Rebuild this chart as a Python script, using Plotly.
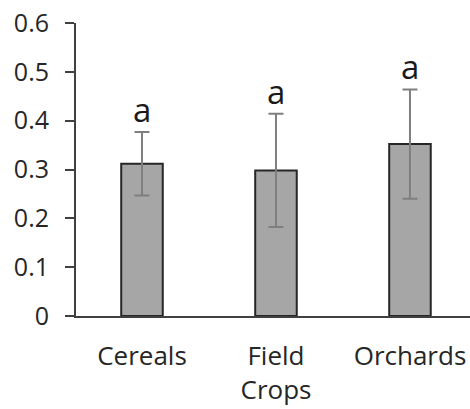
import plotly.graph_objects as go

categories = ["Cereals", "Field<br>Crops", "Orchards"]
means = [0.312, 0.298, 0.352]
errors = [0.065, 0.116, 0.112]
letters = ["a", "a", "a"]
y_ticks = [0, 0.1, 0.2, 0.3, 0.4, 0.5, 0.6]
y_tick_labels = ["0", "0.1", "0.2", "0.3", "0.4", "0.5", "0.6"]

FONT = "Open Sans"

fig = go.Figure()
fig.add_trace(go.Bar(
    x=list(range(len(categories))),
    y=means,
    width=0.31,
    marker=dict(color="#a6a6a6", line=dict(color="#262626", width=2)),
    error_y=dict(type="data", array=errors, visible=True,
                 color="#7f7f7f", thickness=2, width=7.5),
    showlegend=False,
))

for i, (m, e, t) in enumerate(zip(means, errors, letters)):
    fig.add_annotation(x=i, y=m + e, text=t, showarrow=False,
                       yanchor="bottom", yshift=-2,
                       font=dict(family=FONT, size=33, color="#1a1a1a"))

fig.update_layout(
    width=470, height=409,
    margin=dict(l=76, r=0, t=23, b=93),
    paper_bgcolor="white", plot_bgcolor="white",
    font=dict(family=FONT, color="#262626"),
    xaxis=dict(
        range=[-0.4925, 2.448],
        tickvals=list(range(len(categories))),
        ticktext=categories,
        showline=True, linecolor="#404040", linewidth=2,
        ticks="", showgrid=False, zeroline=False,
        tickfont=dict(family=FONT, size=26, color="#262626"),
        ticklabelstandoff=16,
    ),
    yaxis=dict(
        range=[0, 0.6],
        tickvals=y_ticks, ticktext=y_tick_labels,
        showline=True, linecolor="#404040", linewidth=2,
        ticks="outside", ticklen=9, tickwidth=2, tickcolor="#404040",
        showgrid=False, zeroline=False,
        tickfont=dict(family=FONT, size=25, color="#262626"),
        ticklabelstandoff=11,
    ),
)

fig.write_html("out.html")
